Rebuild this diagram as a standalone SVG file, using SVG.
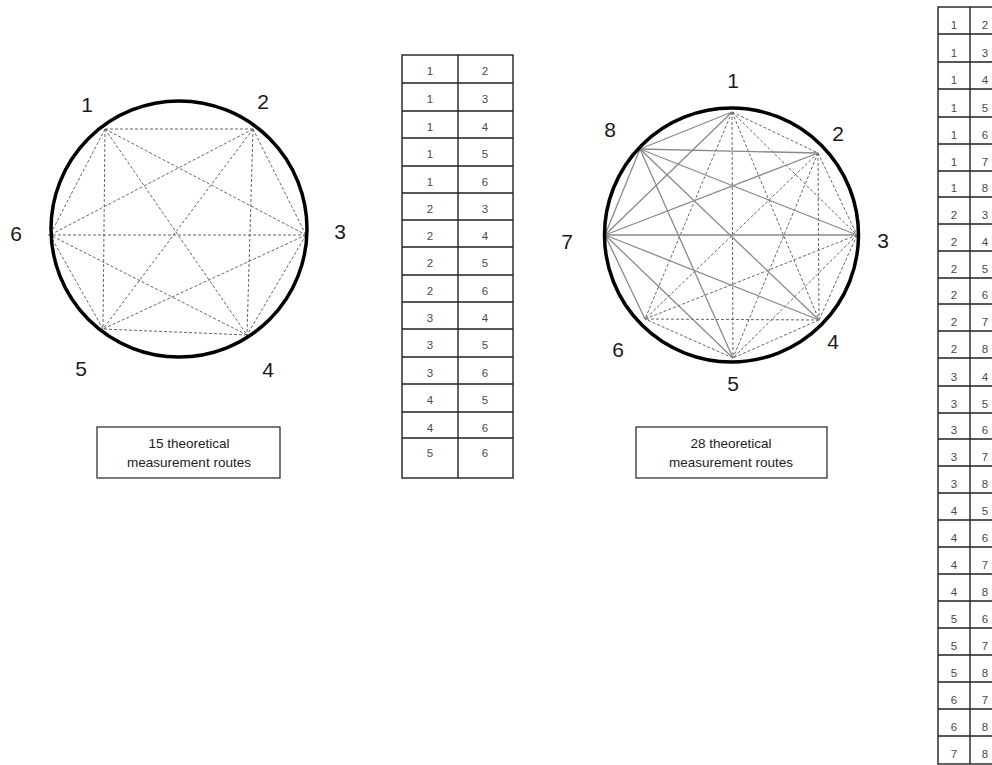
<svg xmlns="http://www.w3.org/2000/svg" width="992" height="765" viewBox="0 0 992 765">
<style>
.bg{fill:#ffffff}
.ring{fill:none;stroke:#000;stroke-width:3.5}
.d{stroke:#555;stroke-width:0.9;stroke-dasharray:3 2;fill:none}
.s{stroke:#8a8a8a;stroke-width:1.3;fill:none}
.lbl{font-family:"Liberation Sans",Arial,sans-serif;font-size:21px;fill:#1a1a1a;text-anchor:middle}
.cell{font-family:"Liberation Sans",Arial,sans-serif;font-size:11.5px;fill:#4a4a4a;text-anchor:middle}
.grid{stroke:#222;stroke-width:1.4;fill:none}
.box{fill:#fff;stroke:#222;stroke-width:1.2}
.cap{font-family:"Liberation Sans",Arial,sans-serif;font-size:13.5px;fill:#222;text-anchor:middle}
</style>
<rect class="bg" x="0" y="0" width="992" height="765"/>

<!-- Left circle: 6 points -->
<g id="connectors-left">
<line class="d" x1="105" y1="129" x2="253" y2="129"/>
<line class="d" x1="105" y1="129" x2="306" y2="235"/>
<line class="d" x1="105" y1="129" x2="247" y2="335"/>
<line class="d" x1="105" y1="129" x2="103" y2="329"/>
<line class="d" x1="105" y1="129" x2="50" y2="235"/>
<line class="d" x1="253" y1="129" x2="306" y2="235"/>
<line class="d" x1="253" y1="129" x2="247" y2="335"/>
<line class="d" x1="253" y1="129" x2="103" y2="329"/>
<line class="d" x1="253" y1="129" x2="50" y2="235"/>
<line class="d" x1="306" y1="235" x2="247" y2="335"/>
<line class="d" x1="306" y1="235" x2="103" y2="329"/>
<line class="d" x1="306" y1="235" x2="47" y2="235"/>
<line class="d" x1="247" y1="335" x2="103" y2="329"/>
<line class="d" x1="247" y1="335" x2="50" y2="235"/>
<line class="d" x1="103" y1="329" x2="50" y2="235"/>
</g>
<g id="circle-left">
<circle class="ring" cx="179" cy="229" r="128"/>
</g>
<g id="left-p1"><text class="lbl" x="87" y="112">1</text></g>
<g id="left-p2"><text class="lbl" x="263" y="109">2</text></g>
<g id="left-p3"><text class="lbl" x="340" y="239">3</text></g>
<g id="left-p4"><text class="lbl" x="268" y="377">4</text></g>
<g id="left-p5"><text class="lbl" x="81" y="376">5</text></g>
<g id="left-p6"><text class="lbl" x="16" y="241">6</text></g>

<g id="caption-left">
<rect class="box" x="97" y="427" width="183" height="51"/>
<text class="cap" x="189" y="448">15 theoretical</text>
<text class="cap" x="189" y="467">measurement routes</text>
</g>

<!-- Table 1 -->
<g id="table-15">
<rect class="grid" x="402" y="55" width="111" height="423"/>
<line class="grid" x1="458" y1="55" x2="458" y2="478"/>
<path class="grid" d="M402 83H513M402 111H513M402 138H513M402 166H513M402 193H513M402 220H513M402 247H513M402 275H513M402 302H513M402 329H513M402 357H513M402 384H513M402 412H513M402 438H513"/>
<g>
<text class="cell" x="430" y="75">1</text><text class="cell" x="485" y="75">2</text>
<text class="cell" x="430" y="103">1</text><text class="cell" x="485" y="103">3</text>
<text class="cell" x="430" y="131">1</text><text class="cell" x="485" y="131">4</text>
<text class="cell" x="430" y="158">1</text><text class="cell" x="485" y="158">5</text>
<text class="cell" x="430" y="186">1</text><text class="cell" x="485" y="186">6</text>
<text class="cell" x="430" y="213">2</text><text class="cell" x="485" y="213">3</text>
<text class="cell" x="430" y="240">2</text><text class="cell" x="485" y="240">4</text>
<text class="cell" x="430" y="267">2</text><text class="cell" x="485" y="267">5</text>
<text class="cell" x="430" y="295">2</text><text class="cell" x="485" y="295">6</text>
<text class="cell" x="430" y="322">3</text><text class="cell" x="485" y="322">4</text>
<text class="cell" x="430" y="349">3</text><text class="cell" x="485" y="349">5</text>
<text class="cell" x="430" y="377">3</text><text class="cell" x="485" y="377">6</text>
<text class="cell" x="430" y="404">4</text><text class="cell" x="485" y="404">5</text>
<text class="cell" x="430" y="432">4</text><text class="cell" x="485" y="432">6</text>
<text class="cell" x="430" y="457">5</text><text class="cell" x="485" y="457">6</text>
</g>
</g>

<!-- Right circle: 8 points -->
<g id="connectors-right">
<line class="d" x1="732" y1="112" x2="818" y2="153"/>
<line class="d" x1="732" y1="112" x2="857" y2="235"/>
<line class="d" x1="732" y1="112" x2="819" y2="320"/>
<line class="d" x1="732" y1="112" x2="733" y2="358"/>
<line class="d" x1="732" y1="112" x2="645" y2="319"/>
<line class="d" x1="818" y1="153" x2="857" y2="235"/>
<line class="d" x1="818" y1="153" x2="819" y2="320"/>
<line class="d" x1="818" y1="153" x2="733" y2="358"/>
<line class="d" x1="818" y1="153" x2="645" y2="319"/>
<line class="d" x1="857" y1="235" x2="819" y2="320"/>
<line class="d" x1="857" y1="235" x2="733" y2="358"/>
<line class="d" x1="857" y1="235" x2="645" y2="319"/>
<line class="d" x1="819" y1="320" x2="733" y2="358"/>
<line class="d" x1="819" y1="320" x2="645" y2="319"/>
<line class="d" x1="733" y1="358" x2="645" y2="319"/>
<line class="s" x1="640" y1="149" x2="732" y2="112"/>
<line class="s" x1="640" y1="149" x2="818" y2="153"/>
<line class="s" x1="640" y1="149" x2="857" y2="235"/>
<line class="s" x1="640" y1="149" x2="819" y2="320"/>
<line class="s" x1="640" y1="149" x2="733" y2="358"/>
<line class="s" x1="640" y1="149" x2="605" y2="235"/>
<line class="s" x1="605" y1="235" x2="732" y2="112"/>
<line class="s" x1="605" y1="235" x2="818" y2="153"/>
<line class="s" x1="605" y1="235" x2="857" y2="235"/>
<line class="s" x1="605" y1="235" x2="819" y2="320"/>
<line class="s" x1="605" y1="235" x2="733" y2="358"/>
<line class="s" x1="605" y1="235" x2="645" y2="319"/>
</g>
<g id="circle-right">
<circle class="ring" cx="731.5" cy="235" r="127"/>
</g>
<g id="right-p1"><text class="lbl" x="733" y="88">1</text></g>
<g id="right-p2"><text class="lbl" x="838" y="141">2</text></g>
<g id="right-p3"><text class="lbl" x="883" y="248">3</text></g>
<g id="right-p4"><text class="lbl" x="833" y="349">4</text></g>
<g id="right-p5"><text class="lbl" x="733" y="391">5</text></g>
<g id="right-p6"><text class="lbl" x="618" y="357">6</text></g>
<g id="right-p7"><text class="lbl" x="567" y="249">7</text></g>
<g id="right-p8"><text class="lbl" x="610" y="137">8</text></g>

<g id="caption-right">
<rect class="box" x="636" y="427" width="191" height="51"/>
<text class="cap" x="731" y="448">28 theoretical</text>
<text class="cap" x="731" y="467">measurement routes</text>
</g>

<!-- Table 2 -->
<g id="table-28">
<rect class="grid" x="938" y="7" width="70" height="757"/>
<line class="grid" x1="970" y1="7" x2="970" y2="764"/>
<path class="grid" d="M938 34H1000M938 62H1000M938 89H1000M938 117H1000M938 144H1000M938 171H1000M938 197H1000M938 224H1000M938 251H1000M938 278H1000M938 304H1000M938 331H1000M938 358H1000M938 386H1000M938 413H1000M938 439H1000M938 466H1000M938 493H1000M938 520H1000M938 547H1000M938 574H1000M938 601H1000M938 628H1000M938 655H1000M938 682H1000M938 709H1000M938 736H1000"/>
<g>
<text class="cell" x="954" y="29">1</text><text class="cell" x="985" y="29">2</text>
<text class="cell" x="954" y="57">1</text><text class="cell" x="985" y="57">3</text>
<text class="cell" x="954" y="84">1</text><text class="cell" x="985" y="84">4</text>
<text class="cell" x="954" y="112">1</text><text class="cell" x="985" y="112">5</text>
<text class="cell" x="954" y="139">1</text><text class="cell" x="985" y="139">6</text>
<text class="cell" x="954" y="166">1</text><text class="cell" x="985" y="166">7</text>
<text class="cell" x="954" y="192">1</text><text class="cell" x="985" y="192">8</text>
<text class="cell" x="954" y="219">2</text><text class="cell" x="985" y="219">3</text>
<text class="cell" x="954" y="246">2</text><text class="cell" x="985" y="246">4</text>
<text class="cell" x="954" y="273">2</text><text class="cell" x="985" y="273">5</text>
<text class="cell" x="954" y="299">2</text><text class="cell" x="985" y="299">6</text>
<text class="cell" x="954" y="326">2</text><text class="cell" x="985" y="326">7</text>
<text class="cell" x="954" y="353">2</text><text class="cell" x="985" y="353">8</text>
<text class="cell" x="954" y="381">3</text><text class="cell" x="985" y="381">4</text>
<text class="cell" x="954" y="408">3</text><text class="cell" x="985" y="408">5</text>
<text class="cell" x="954" y="434">3</text><text class="cell" x="985" y="434">6</text>
<text class="cell" x="954" y="461">3</text><text class="cell" x="985" y="461">7</text>
<text class="cell" x="954" y="488">3</text><text class="cell" x="985" y="488">8</text>
<text class="cell" x="954" y="515">4</text><text class="cell" x="985" y="515">5</text>
<text class="cell" x="954" y="542">4</text><text class="cell" x="985" y="542">6</text>
<text class="cell" x="954" y="569">4</text><text class="cell" x="985" y="569">7</text>
<text class="cell" x="954" y="596">4</text><text class="cell" x="985" y="596">8</text>
<text class="cell" x="954" y="623">5</text><text class="cell" x="985" y="623">6</text>
<text class="cell" x="954" y="650">5</text><text class="cell" x="985" y="650">7</text>
<text class="cell" x="954" y="677">5</text><text class="cell" x="985" y="677">8</text>
<text class="cell" x="954" y="704">6</text><text class="cell" x="985" y="704">7</text>
<text class="cell" x="954" y="731">6</text><text class="cell" x="985" y="731">8</text>
<text class="cell" x="954" y="758">7</text><text class="cell" x="985" y="758">8</text>
</g>
</g>
</svg>
